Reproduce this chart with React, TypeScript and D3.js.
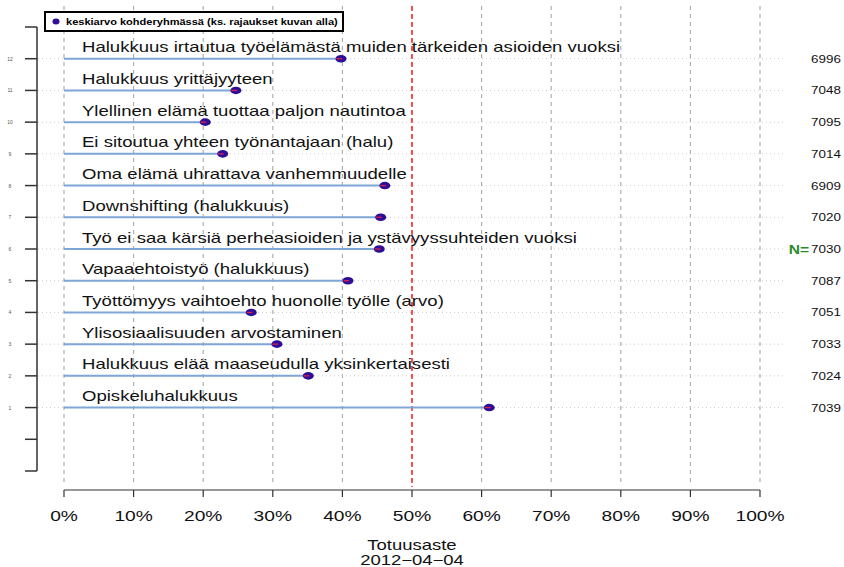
import React from "react";
import * as d3 from "d3";

const labels = [
  "Halukkuus irtautua työelämästä muiden tärkeiden asioiden vuoksi",
  "Halukkuus yrittäjyyteen",
  "Ylellinen elämä tuottaa paljon nautintoa",
  "Ei sitoutua yhteen työnantajaan (halu)",
  "Oma elämä uhrattava vanhemmuudelle",
  "Downshifting (halukkuus)",
  "Työ ei saa kärsiä perheasioiden ja ystävyyssuhteiden vuoksi",
  "Vapaaehtoistyö (halukkuus)",
  "Työttömyys vaihtoehto huonolle työlle (arvo)",
  "Ylisosiaalisuuden arvostaminen",
  "Halukkuus elää maaseudulla yksinkertaisesti",
  "Opiskeluhalukkuus",
];
const rows = [12, 11, 10, 9, 8, 7, 6, 5, 4, 3, 2, 1];
const values = [39.8, 24.7, 20.3, 22.8, 46.1, 45.5, 45.3, 40.8, 26.9, 30.6, 35.1, 61.1];
const counts = [6996, 7048, 7095, 7014, 6909, 7020, 7030, 7087, 7051, 7033, 7024, 7039];
const xTicks = [0, 10, 20, 30, 40, 50, 60, 70, 80, 90, 100];
const yTicks = [-1, 0, 1, 2, 3, 4, 5, 6, 7, 8, 9, 10, 11, 12, 13];

const SX = 1.28;

function T(props: any) {
  const { x, y, children, sx = SX, ...rest } = props;
  return (
    <text transform={`translate(${x},${y}) scale(${sx},1)`} {...rest}>
      {children}
    </text>
  );
}

export default function App() {
  const W = 844, H = 567;
  const x = d3.scaleLinear().domain([0, 100]).range([64, 760]);
  const y = d3.scaleLinear().domain([-1, 13]).range([471, 27]);
  const font = "Liberation Sans, Arial, sans-serif";
  return (
    <svg width={W} height={H} style={{ position: "absolute", left: 0, top: 0, background: "#fff" }} fontFamily={font}>
      {xTicks.map((t) => (
        <line key={"g" + t} x1={x(t)} x2={x(t)} y1={6} y2={484} stroke="#b0b0b0" strokeWidth={1.2} strokeDasharray="4,4" />
      ))}
      {rows.map((r) => (
        <line key={"h" + r} x1={38} x2={786} y1={y(r)} y2={y(r)} stroke="#cccccc" strokeWidth={1} strokeDasharray="1,3" />
      ))}
      <line x1={37} x2={37} y1={y(13)} y2={y(-1)} stroke="#333" strokeWidth={1.5} />
      {yTicks.map((t) => (
        <line key={"yt" + t} x1={25} x2={37} y1={y(t)} y2={y(t)} stroke="#333" strokeWidth={1.5} />
      ))}
      {rows.map((r) => (
        <text key={"yl" + r} x={10} y={y(r) + 2} fontSize={5} fill="#555" textAnchor="middle">{r}</text>
      ))}
      <line x1={x(50)} x2={x(50)} y1={6} y2={487} stroke="#ff0000" strokeWidth={1.2} strokeDasharray="5,3" />
      {rows.map((r, i) => (
        <g key={"b" + r}>
          <line x1={x(0)} x2={x(values[i])} y1={y(r)} y2={y(r)} stroke="#7ea6d6" strokeWidth={2} />
          <ellipse cx={x(values[i])} cy={y(r)} rx={5.5} ry={3.8} fill="#2e0e96" />
          <line x1={x(values[i]) - 4.5} x2={x(values[i]) + 1} y1={y(r)} y2={y(r)} stroke="#e0204a" strokeWidth={1.3} />
          <T x={82} y={y(r) - 6.5} fontSize={14.5} fill="#111">{labels[i]}</T>
          <T x={841} y={y(r) + 4} fontSize={10.5} fill="#111" textAnchor="end">{counts[i]}</T>
        </g>
      ))}
      <T x={809} y={y(6) + 4.5} fontSize={12} fill="#2a8a2a" textAnchor="end" fontWeight="bold" sx={1.3}>N=</T>
      <line x1={x(0)} x2={x(100)} y1={490} y2={490} stroke="#333" strokeWidth={1.2} />
      {xTicks.map((t) => (
        <g key={"xt" + t}>
          <line x1={x(t)} x2={x(t)} y1={490} y2={497} stroke="#333" strokeWidth={1.2} />
          <T x={x(t)} y={521} fontSize={15} fill="#111" textAnchor="middle">{t + "%"}</T>
        </g>
      ))}
      <T x={x(50)} y={550} fontSize={14} fill="#111" textAnchor="middle" sx={1.32}>Totuusaste</T>
      <T x={x(50)} y={564.5} fontSize={14} fill="#111" textAnchor="middle" sx={1.32}>2012−04−04</T>
      <rect x={45} y={12} width={298} height={19} fill="#fff" stroke="#000" strokeWidth={2} />
      <ellipse cx={56} cy={21.5} rx={3.5} ry={3} fill="#2e0e96" />
      <T x={66} y={24.5} fontSize={8.5} fontWeight="bold" fill="#000" sx={1.3}>keskiarvo kohderyhmässä (ks. rajaukset kuvan alla)</T>
    </svg>
  );
}
